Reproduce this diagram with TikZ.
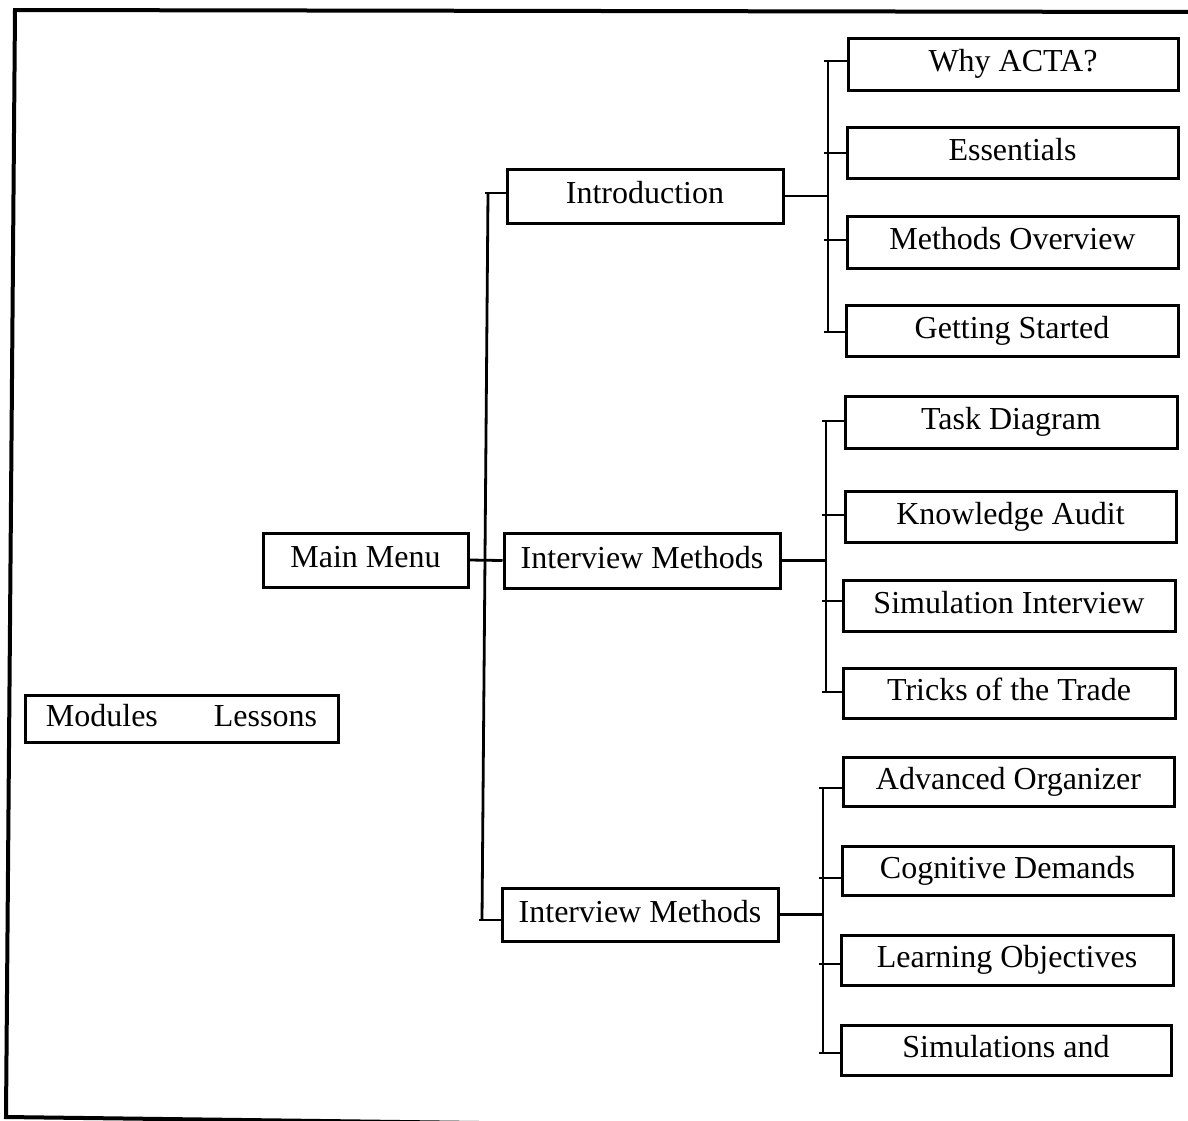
\documentclass[tikz,border=0pt]{standalone}
\usepackage{fontspec}
\setmainfont{Liberation Serif}
\usetikzlibrary{calc}
\begin{document}
\begin{tikzpicture}[x=1pt,y=-1pt,
  box/.style={draw=black,line width=3pt,fill=white,inner sep=0pt,
    text height=22pt,text depth=7pt,font=\fontsize{32}{38}\selectfont},
  link/.style={draw=black,line width=2.8pt},
  frame/.style={draw=black,line width=4pt}]
\useasboundingbox (0,0) rectangle (1188,1120);

% outer frame (right side and lower right run off the page)
\draw[frame] (1192,12) -- (15,10) -- (6,1117) -- (1192,1132);

% legend
\node[box,minimum width=313pt,minimum height=47pt] (legend) at (181.5,718.5)
  {Modules\hspace{56pt}Lessons};

% root and modules
\node[box,minimum width=205pt,minimum height=54pt] (mm)    at (365.5,560)   {Main Menu};
\node[box,minimum width=276pt,minimum height=54pt] (intro) at (645,196)     {Introduction};
\node[box,minimum width=276pt,minimum height=55pt] (im1)   at (642,560.5)   {Interview Methods};
\node[box,minimum width=276pt,minimum height=53pt] (im2)   at (640,914.5)   {Interview Methods};

% lessons of the first module
\node[box,minimum width=330pt,minimum height=52pt] (why) at (1013,64)    {Why ACTA?};
\node[box,minimum width=331pt,minimum height=51pt] (ess) at (1012.5,152.5) {Essentials};
\node[box,minimum width=331pt,minimum height=52pt] (mov) at (1012.5,242)  {Methods Overview};
\node[box,minimum width=332pt,minimum height=51pt] (gs)  at (1012,330.5)  {Getting Started};

% lessons of the second module
\node[box,minimum width=332pt,minimum height=52pt] (td) at (1011,422)    {Task Diagram};
\node[box,minimum width=331pt,minimum height=51pt] (ka) at (1010.5,516.5) {Knowledge Audit};
\node[box,minimum width=332pt,minimum height=51pt] (si) at (1009,605.5)  {Simulation Interview};
\node[box,minimum width=332pt,minimum height=50pt] (tt) at (1009,693)    {Tricks of the Trade};

% lessons of the third module
\node[box,minimum width=331pt,minimum height=49pt] (ao) at (1008.5,781.5) {Advanced Organizer};
\node[box,minimum width=331pt,minimum height=49pt] (cd) at (1007.5,870.5) {Cognitive Demands};
\node[box,minimum width=332pt,minimum height=50pt] (lo) at (1007,960)     {Learning Objectives};
\node[box,minimum width=330pt,minimum height=50pt] (sa) at (1006,1050)    {Simulations and};

% main trunk
\coordinate (mt) at (488,193);
\coordinate (mb) at (482,920);
\draw[link] (mt) -- (mb);
\draw[link] (mm.east) -- (im1.west);
\draw[link] ($(mt)+(-3,0)$) -- (mt -| intro.west);
\draw[link] ($(mb)+(-3,0)$) -- (mb -| im2.west);

% first branch
\coordinate (a1) at (828,61);
\coordinate (a2) at (828,153);
\coordinate (a3) at (828,240);
\coordinate (a4) at (828,332);
\draw[link] (a1) -- (a4);
\draw[link] (intro.east) -- (intro.east -| a1);
\foreach \c/\n in {a1/why,a2/ess,a3/mov,a4/gs}
  \draw[link] ($(\c)+(-4,0)$) -- (\c -| \n.west);

% second branch
\coordinate (b1) at (826,421);
\coordinate (b2) at (826,515);
\coordinate (b3) at (826,601);
\coordinate (b4) at (826,692);
\draw[link] (b1) -- (b4);
\draw[link] (im1.east) -- (im1.east -| b1);
\foreach \c/\n in {b1/td,b2/ka,b3/si,b4/tt}
  \draw[link] ($(\c)+(-4,0)$) -- (\c -| \n.west);

% third branch
\coordinate (c1) at (823,788);
\coordinate (c2) at (823,878);
\coordinate (c3) at (823,964);
\coordinate (c4) at (823,1053);
\draw[link] (c1) -- (c4);
\draw[link] (im2.east) -- (im2.east -| c1);
\foreach \c/\n in {c1/ao,c2/cd,c3/lo,c4/sa}
  \draw[link] ($(\c)+(-4,0)$) -- (\c -| \n.west);
\end{tikzpicture}
\end{document}
